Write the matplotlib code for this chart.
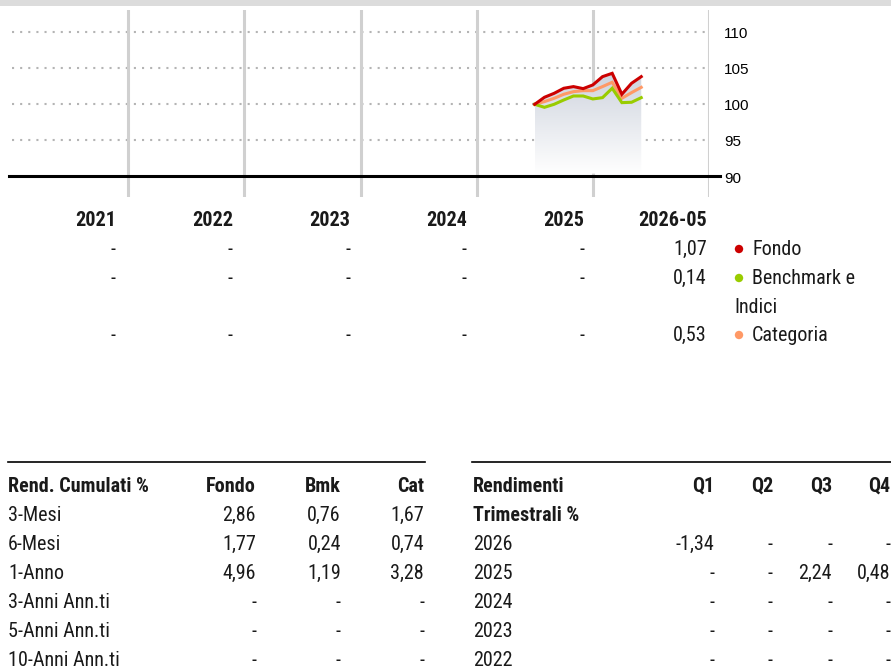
import matplotlib
matplotlib.use("Agg")
import matplotlib.pyplot as plt
from matplotlib import font_manager
from matplotlib.patches import Polygon, Rectangle
from matplotlib.transforms import offset_copy
import numpy as np

# pick a condensed family if one is installed
names = {f.name for f in font_manager.fontManager.ttflist}
FONT = "Roboto"
for cand in ["Roboto Condensed", "Liberation Sans Narrow", "Open Sans Condensed", "Roboto"]:
    if cand in names:
        FONT = cand
        break
plt.rcParams["font.family"] = [FONT, "DejaVu Sans"]

# ---- data ----
years = ["2021", "2022", "2023", "2024", "2025", "2026-05"]
months = np.arange(12)  # Jul 2025 .. Jun 2026, monthly points
fondo = [100.0, 100.97, 101.52, 102.22, 102.45, 102.17, 102.68, 103.83, 104.29, 101.39, 102.91, 103.83]
categoria = [100.0, 100.37, 100.83, 101.39, 101.75, 101.89, 101.89, 102.45, 103.05, 100.83, 101.62, 102.35]
benchmark = [100.0, 99.58, 100.0, 100.6, 101.15, 101.15, 100.74, 100.92, 102.22, 100.23, 100.28, 100.92]
yticks = [90, 95, 100, 105, 110]

series_names = ["Fondo", "Benchmark e\nIndici", "Categoria"]
series_colors = ["#cc0000", "#99cc00", "#ff9966"]
annual = [["-", "-", "-", "-", "-", "1,07"],
          ["-", "-", "-", "-", "-", "0,14"],
          ["-", "-", "-", "-", "-", "0,53"]]

cum_header = ["Rend. Cumulati %", "Fondo", "Bmk", "Cat"]
cum_rows = ["3-Mesi", "6-Mesi", "1-Anno", "3-Anni Ann.ti", "5-Anni Ann.ti", "10-Anni Ann.ti"]
cum_fondo = ["2,86", "1,77", "4,96", "-", "-", "-"]
cum_bmk = ["0,76", "0,24", "1,19", "-", "-", "-"]
cum_cat = ["1,67", "0,74", "3,28", "-", "-", "-"]

q_header = ["Rendimenti\nTrimestrali %", "Q1", "Q2", "Q3", "Q4"]
q_years = ["2026", "2025", "2024", "2023", "2022"]
q_vals = [["-1,34", "-", "-", "-"],
          ["-", "-", "2,24", "0,48"],
          ["-", "-", "-", "-"],
          ["-", "-", "-", "-"],
          ["-", "-", "-", "-"]]

W, H = 891, 669
FS = 14.5
TXT = "#1a1a1a"
fig = plt.figure(figsize=(W / 100, H / 100), dpi=100)
fig.patch.set_facecolor("white")

def fx(px):
    return px / W

def fy(py):
    return 1 - py / H

def put(x, y, s, ha="left", bold=False, **kw):
    fig.text(fx(x), fy(y), s, ha=ha, va="baseline", fontsize=FS, color=TXT,
             fontweight="bold" if bold else "normal", **kw)

# top grey band
fig.patches.append(Rectangle((0, fy(6)), 1, 6 / H, transform=fig.transFigure,
                             facecolor="#dcdcdc", edgecolor="none"))

# ---- line chart ----
ax = fig.add_axes([fx(12), fy(197), fx(709 - 12), (197 - 10) / H])
ax.set_xlim(2021, 2027)
ax.set_ylim(87.16, 113.06)
for s in ax.spines.values():
    s.set_visible(False)
ax.set_xticks([])
ax.set_yticks([])

for v in yticks[1:]:
    ax.axhline(v, color="#b4b4b4", lw=1.5, ls=(0, (1, 2.9)), zorder=1)
for x in range(2022, 2028):
    ax.axvline(x, color="#d0d0d0", lw=2.2, zorder=1)
ax.plot([-0.005, 1.016], [(90 - 87.16) / (113.06 - 87.16)] * 2, color="black", lw=2.2,
        transform=ax.transAxes, clip_on=False, zorder=3)

xs = 2025.5 + months / 12.0
for vals, col in zip([categoria, benchmark, fondo], [series_colors[2], series_colors[1], series_colors[0]]):
    ax.plot(xs, vals, color=col, lw=2.2, zorder=4, solid_joinstyle="miter")

# grey gradient under the lines
top = np.max([fondo, categoria, benchmark], axis=0)
poly_pts = np.vstack([np.column_stack([xs, top]), [[xs[-1], 90.4], [xs[0], 90.4]]])
poly = Polygon(poly_pts, closed=True, facecolor="none", edgecolor="none")
ax.add_patch(poly)
grad = np.linspace(0, 1, 256).reshape(-1, 1)
c_top = np.array([0.81, 0.83, 0.87])
c_bot = np.array([1.0, 1.0, 1.0])
img = (c_bot + (c_top - c_bot) * grad).reshape(256, 1, 3)
im = ax.imshow(img, extent=[xs[0], xs[-1], 90.4, top.max()], origin="lower",
               aspect="auto", zorder=2)
im.set_clip_path(poly)

tick_tr = offset_copy(ax.get_yaxis_transform(), fig=fig, y=-1.5, units="points")
for v in yticks:
    ax.text(1.022, v, str(v), transform=tick_tr, ha="left", va="center",
            fontsize=11, family=["Liberation Sans", "DejaVu Sans"])

# ---- annual table under chart ----
label_right = [116, 233, 350, 467, 584, 707]
for lbl, xr in zip(years, label_right):
    put(xr, 226.5, lbl, ha="right", bold=True)
row_base = [255, 284, 341]
for vals, ry in zip(annual, row_base):
    for v, xr in zip(vals, label_right):
        put(xr, ry, v, ha="right")
for name, col, ry in zip(series_names, series_colors, row_base):
    fig.patches.append(plt.Circle((739, H - (ry - 6)), 4.2, transform=None,
                                  facecolor=col, edgecolor="none"))
    first, *rest = name.split("\n")
    put(752, ry, first)
    if rest:
        put(734, ry + 29, rest[0])

# ---- cumulative returns table ----
fig.add_artist(plt.Line2D([fx(8), fx(425)], [fy(462), fy(462)], color="black", lw=1.2))
cum_x = [8, 256, 341, 424]
for i, h in enumerate(cum_header):
    put(cum_x[i], 492, h, ha="left" if i == 0 else "right", bold=True)
for r, lbl in enumerate(cum_rows):
    ry = 521 + 29 * r
    put(cum_x[0], ry, lbl)
    for xr, col in zip(cum_x[1:], [cum_fondo, cum_bmk, cum_cat]):
        put(xr, ry, col[r], ha="right")

# ---- quarterly returns table ----
fig.add_artist(plt.Line2D([fx(472), fx(891)], [fy(462), fy(462)], color="black", lw=1.2))
q_x = [473, 714, 773, 832, 890]
h0, h1 = q_header[0].split("\n")
put(q_x[0], 492, h0, bold=True)
put(q_x[0], 521, h1, bold=True)
for i, h in enumerate(q_header[1:]):
    put(q_x[i + 1], 492, h, ha="right", bold=True)
for r, yr in enumerate(q_years):
    ry = 550 + 29 * r
    put(q_x[0], ry, yr)
    for i, v in enumerate(q_vals[r]):
        put(q_x[i + 1], ry, v, ha="right")

fig.savefig("out.png", dpi=100, facecolor="white")
